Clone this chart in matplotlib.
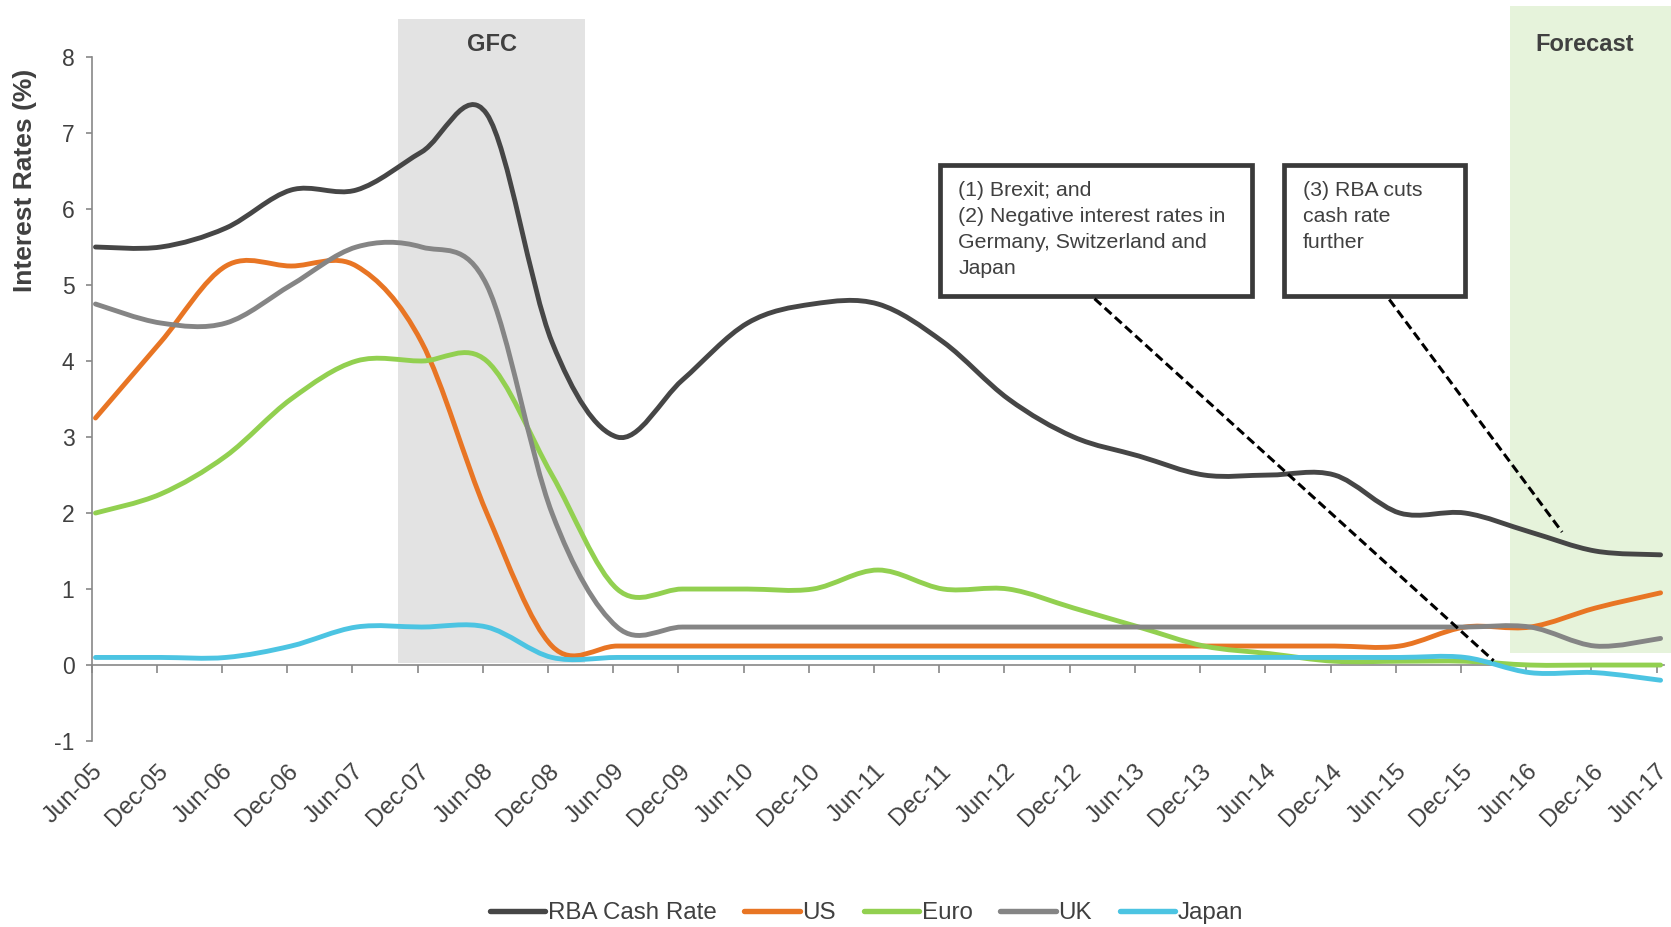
import numpy as np
import matplotlib
matplotlib.use("Agg")
import matplotlib.pyplot as plt
from matplotlib.path import Path
from matplotlib.patches import PathPatch, Rectangle
from matplotlib.lines import Line2D

plt.rcParams["font.family"] = ["Liberation Sans", "DejaVu Sans"]

# ---- data: policy rates (%) at half-year intervals ----
periods = ["Jun-05", "Dec-05", "Jun-06", "Dec-06", "Jun-07", "Dec-07", "Jun-08",
           "Dec-08", "Jun-09", "Dec-09", "Jun-10", "Dec-10", "Jun-11", "Dec-11",
           "Jun-12", "Dec-12", "Jun-13", "Dec-13", "Jun-14", "Dec-14", "Jun-15",
           "Dec-15", "Jun-16", "Dec-16", "Jun-17"]

rba = [5.50, 5.50, 5.75, 6.25, 6.25, 6.75, 7.25, 4.25, 3.00, 3.75, 4.50, 4.75, 4.75,
       4.25, 3.50, 3.00, 2.75, 2.50, 2.50, 2.50, 2.00, 2.00, 1.75, 1.50, 1.45]
us = [3.25, 4.25, 5.25, 5.25, 5.25, 4.25, 2.00, 0.25, 0.25, 0.25, 0.25, 0.25, 0.25,
      0.25, 0.25, 0.25, 0.25, 0.25, 0.25, 0.25, 0.25, 0.50, 0.50, 0.75, 0.95]
euro = [2.00, 2.25, 2.75, 3.50, 4.00, 4.00, 4.00, 2.50, 1.00, 1.00, 1.00, 1.00, 1.25,
        1.00, 1.00, 0.75, 0.50, 0.25, 0.15, 0.05, 0.05, 0.05, 0.00, 0.00, 0.00]
uk = [4.75, 4.50, 4.50, 5.00, 5.50, 5.50, 5.00, 2.00, 0.50, 0.50, 0.50, 0.50, 0.50,
      0.50, 0.50, 0.50, 0.50, 0.50, 0.50, 0.50, 0.50, 0.50, 0.50, 0.25, 0.35]
japan = [0.10, 0.10, 0.10, 0.25, 0.50, 0.50, 0.50, 0.10, 0.10, 0.10, 0.10, 0.10, 0.10,
         0.10, 0.10, 0.10, 0.10, 0.10, 0.10, 0.10, 0.10, 0.10, -0.10, -0.10, -0.20]

series_labels = ["RBA Cash Rate", "US", "Euro", "UK", "Japan"]
series_values = [rba, us, euro, uk, japan]
series_colors = ["#464646", "#E87524", "#92D050", "#858585", "#4CC4E2"]

y_ticks = [-1, 0, 1, 2, 3, 4, 5, 6, 7, 8]

# shaded periods (x in period index units, y in %)
gfc_span = (4.64, 7.51, 0.03, 8.50)
forecast_span = (21.69, 24.30, 0.154, 8.67)

TEXT = "#404040"
AXIS = "#888888"


def smooth_path(xs, ys):
    """Cubic Bezier path through the points (spreadsheet-style smoothed line)."""
    pts = np.column_stack([xs, ys]).astype(float)
    n = len(pts)
    verts = [pts[0]]
    codes = [Path.MOVETO]
    for i in range(n - 1):
        p0 = pts[max(i - 1, 0)]
        p1 = pts[i]
        p2 = pts[i + 1]
        p3 = pts[min(i + 2, n - 1)]
        verts += [p1 + (p2 - p0) / 6.0, p2 - (p3 - p1) / 6.0, p2]
        codes += [Path.CURVE4] * 3
    return Path(verts, codes)


fig = plt.figure(figsize=(16.71, 9.27), dpi=100)
ax = fig.add_axes([0.05476, 0.2006, 0.94524, 0.7994])
ax.set_xlim(-0.061, 24.16)
ax.set_ylim(-1, 8.75)

# background bands
for (x0, x1, y0, y1), col in [(gfc_span, "#E3E3E3"), (forecast_span, "#E6F3DB")]:
    ax.add_patch(Rectangle((x0, y0), x1 - x0, y1 - y0, facecolor=col,
                           edgecolor="none", zorder=0, clip_on=False))
ax.text((gfc_span[0] + gfc_span[1]) / 2, 8.16, "GFC", ha="center", va="center",
        fontsize=17, fontweight="bold", color=TEXT, zorder=1)
ax.text(22.84, 8.16, "Forecast", ha="center", va="center",
        fontsize=17, fontweight="bold", color=TEXT, zorder=1)

# series
x = np.arange(len(periods))
handles = []
for k, (lab, vals, col) in enumerate(zip(series_labels, series_values, series_colors)):
    patch = PathPatch(smooth_path(x, vals), facecolor="none", edgecolor=col,
                      lw=3.5, capstyle="round", joinstyle="round", zorder=3 + k)
    ax.add_patch(patch)
    handles.append(Line2D([], [], color=col, lw=3.9, solid_capstyle="round"))

# annotation boxes
boxes = [
    ((12.95, 17.73, 4.85, 6.58), 13.23,
     "(1) Brexit; and\n(2) Negative interest rates in\nGermany, Switzerland and\nJapan"),
    ((18.22, 21.00, 4.85, 6.58), 18.52, "(3) RBA cuts\ncash rate\nfurther"),
]
for (bx0, bx1, by0, by1), tx, txt in boxes:
    ax.add_patch(Rectangle((bx0, by0), bx1 - bx0, by1 - by0, facecolor="white",
                           edgecolor="#3A3A3A", lw=3.4, zorder=10))
    ax.text(tx, 6.37, txt, ha="left", va="top", fontsize=15.3, color=TEXT,
            linespacing=1.48, zorder=11)

# dashed leader lines
leaders = [((15.32, 4.82), (21.44, 0.057)), ((19.84, 4.81), (22.49, 1.75))]
for (xa, ya), (xb, yb) in leaders:
    ln, = ax.plot([xa, xb], [ya, yb], color="black", lw=2.2, zorder=12)
    ln.set_dashes([3.0, 1.5])

# axes styling
for side in ["top", "right"]:
    ax.spines[side].set_visible(False)
ax.spines["left"].set_bounds(-1, 8)
ax.spines["bottom"].set_position(("data", 0))
ax.spines["bottom"].set_bounds(-0.061, 24.05)
for side in ["left", "bottom"]:
    ax.spines[side].set_color(AXIS)
    ax.spines[side].set_linewidth(1.2)

ax.set_yticks(y_ticks, [str(v) for v in y_ticks])
ax.set_xticks(x - 0.061, periods, rotation=45, ha="right", va="top",
              rotation_mode="anchor")
ax.tick_params(axis="y", direction="out", length=4.3, width=1.2, color=AXIS,
               labelsize=16.5, labelcolor=TEXT, pad=8)
ax.tick_params(axis="x", direction="out", length=5.4, width=1.2, color=AXIS,
               labelsize=17.3, labelcolor=TEXT, pad=63)

fig.text(0.0152, 0.805, "Interest Rates (%)", rotation=90, ha="center", va="center",
         fontsize=19, fontweight="bold", color=TEXT)

leg = fig.legend(handles, series_labels, loc="center", bbox_to_anchor=(0.5185, 0.0151),
                 ncol=5, frameon=False, fontsize=17.4, handlelength=2.3,
                 handletextpad=0.1, columnspacing=1.15, borderaxespad=0,
                 borderpad=0)
for t in leg.get_texts():
    t.set_color(TEXT)

fig.savefig("out.png", dpi=100)
